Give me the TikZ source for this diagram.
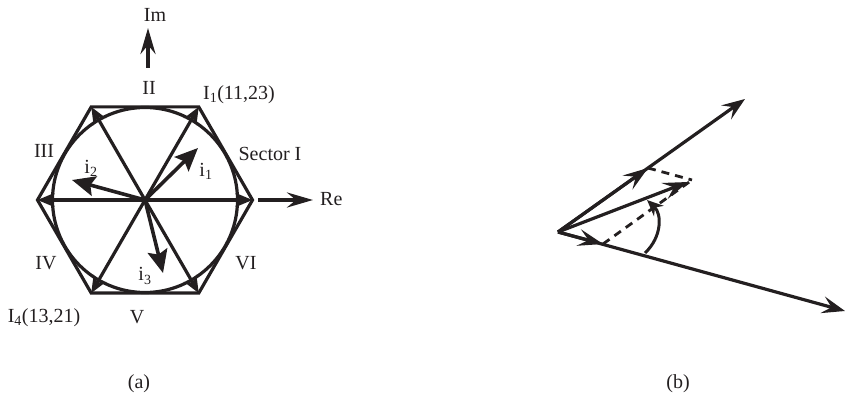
\documentclass[tikz,border=0pt]{standalone}
\usepackage{xcolor}
\usepackage{tikz}
\usepackage{fontspec}
\setmainfont{Liberation Serif}
\usetikzlibrary{arrows.meta,positioning,calc}
\definecolor{ink}{RGB}{35,31,32}
\tikzset{
  vecline/.style={draw=ink,line width=3.2pt,-{Stealth[length=17pt,width=14pt,inset=5pt]}},
  bigvec/.style={draw=ink,line width=3.6pt,-{Stealth[length=23pt,width=20pt,inset=4pt]}},
  axisvec/.style={draw=ink,line width=3.8pt,-{Stealth[length=26pt,width=15pt,inset=9pt]}},
  thinvec/.style={draw=ink,line width=3.2pt,-{Stealth[length=23pt,width=17pt,inset=9pt]}},
  midvec/.style={draw=ink,line width=3.2pt,-{Stealth[length=25pt,width=17pt,inset=10pt]}},
  dashline/.style={draw=ink,line width=2.8pt,dash pattern=on 8pt off 6pt},
  lbl/.style={text=ink,inner sep=0pt,font=\fontsize{20}{23}\selectfont},
}
\begin{document}
\begin{tikzpicture}[x=1pt,y=1pt]
  \useasboundingbox (0,0) rectangle (845,399);
  % hexagon part
  \coordinate (O) at (145,199);
  \foreach \a/\name in {0/v0,60/v1,120/v2,180/v3,240/v4,300/v5}{
    \coordinate (\name) at ($(O)+(\a:107.5)$);
    \draw[vecline] (O) -- (\name);
  }
  \draw[draw=ink,line width=3.2pt] (v0) -- (v1) -- (v2) -- (v3) -- (v4) -- (v5) -- cycle;
  \node[draw=ink,line width=3.2pt,circle,minimum size=185pt,inner sep=0pt] (circ) at (O) {};
  % current vectors
  \coordinate (i1tip) at (198,251);
  \coordinate (i2tip) at (72,219);
  \coordinate (i3tip) at (163,126);
  \draw[bigvec] (O) -- (i1tip);
  \draw[bigvec] (O) -- (i2tip);
  \draw[bigvec] (O) -- (i3tip);
  % axes
  \coordinate (imfoot) at (148,331);
  \coordinate (imtip) at (148,371);
  \coordinate (refoot) at (258,199);
  \coordinate (retip) at (313,199);
  \draw[axisvec] (imfoot) -- (imtip);
  \draw[axisvec] (refoot) -- (retip);
  \node[lbl] (im) at (155,384) {Im};
  \node[lbl,anchor=west] (re) at (320,200) {Re};
  \node[lbl] (s2) at (149,311) {II};
  \node[lbl] (s3) at (44,248) {III};
  \node[lbl] (s4) at (46,136) {IV};
  \node[lbl] (s5) at (137,82) {V};
  \node[lbl] (s6) at (246,136) {VI};
  \node[lbl] (s1) at (270,245) {Sector I};
  \node[lbl] (i1lab) at (239,304) {I\textsubscript{1}(11,23)};
  \node[lbl] (i4lab) at (44,81) {I\textsubscript{4}(13,21)};
  \node[lbl] (i1) at (206,228) {i\textsubscript{1}};
  \node[lbl] (i2) at (91,231) {i\textsubscript{2}};
  \node[lbl] (i3) at (145,123) {i\textsubscript{3}};
  \node[lbl] (capa) at (139,15) {(a)};
  % phasor part
  \coordinate (P) at (558,167);
  \coordinate (utip) at (745,300);
  \coordinate (ltip) at (845,88);
  \coordinate (umid) at (648,231);
  \coordinate (lmid) at (603,155);
  \coordinate (rtip) at (688,217);
  \coordinate (dashend) at (692,219);
  \draw[thinvec] (P) -- (utip);
  \draw[thinvec] (P) -- (ltip);
  \draw[midvec] (P) -- (umid);
  \draw[midvec] (P) -- (lmid);
  \draw[midvec] (P) -- (rtip);
  \draw[dashline] (umid) -- (dashend);
  \draw[dashline] (lmid) -- (dashend);
  \coordinate (arcfoot) at (645,146);
  \coordinate (arctip) at (647,199);
  \draw[draw=ink,line width=3pt,-{Stealth[length=16pt,width=14pt,inset=5pt]}] (arcfoot) .. controls (662,162) and (662,185) .. (arctip);
  \node[lbl] (capb) at (678,15) {(b)};
\end{tikzpicture}
\end{document}
